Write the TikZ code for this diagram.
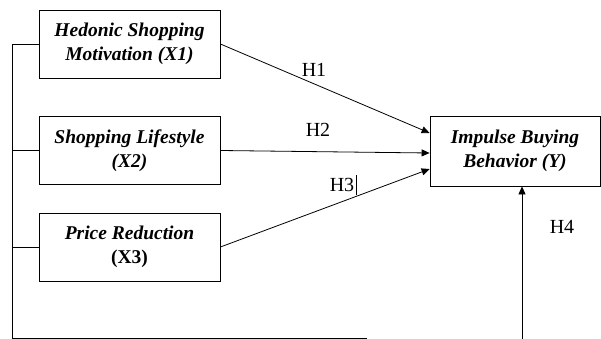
\documentclass[tikz,border=0pt]{standalone}
\usepackage{fontspec}
\setmainfont{Liberation Serif}
\usepackage{tikz}
\usetikzlibrary{arrows.meta,positioning}

\begin{document}
\begin{tikzpicture}[
  x=1pt, y=-1pt,
  varbox/.style={draw, line width=0.8pt, minimum width=181pt, minimum height=68pt, align=center, inner sep=0pt, font=\fontsize{19.5}{24}\selectfont\bfseries\itshape},
  hlabel/.style={font=\fontsize{20}{22}\selectfont, inner sep=0pt},
  line/.style={line width=0.8pt},
  arrow/.style={-{Triangle[length=8pt, width=7pt]}, line width=0.8pt}
]
\useasboundingbox (0,0) rectangle (601,339);

\node[varbox] (x1) at (129.5, 44) {Hedonic Shopping\\Motivation (X1)};
\node[varbox] (x2) at (129.5, 150.5) {Shopping Lifestyle\\(X2)};
\node[varbox] (x3) at (129.5, 247) {Price Reduction\\{\upshape (X3)}};
\node[varbox, minimum width=170pt, minimum height=70pt] (y) at (515, 151) {Impulse Buying\\Behavior (Y)};

% hypothesis paths
\draw[arrow] (x1.east) -- ([yshift=18pt]y.west);
\draw[arrow] (x2.east) -- ([yshift=-2pt]y.west);
\draw[arrow] (x3.east) -- ([yshift=-18pt]y.west);

% joint path of X1, X2, X3 towards Y
\coordinate (lt) at (12, 44);
\coordinate (lb) at (12, 338);
\coordinate (be) at (367, 338);
\coordinate (h4s) at (522, 339);
\draw[line] (x1.west) -- (lt) -- (lb) -- (be);
\draw[line] (x2.west) -- (x2.west -| lt);
\draw[line] (x3.west) -- (x3.west -| lt);
\draw[arrow] (h4s) -- (h4s |- y.south);

\node[hlabel] (h1) at (314, 70) {H1};
\node[hlabel] (h2) at (318, 130) {H2};
\node[hlabel] (h3) at (342, 185) {H3};
\node[hlabel] (h4) at (562, 227) {H4};
\draw[line width=0.5pt] ([xshift=2pt, yshift=3pt]h3.north east) -- ([xshift=2pt, yshift=-3pt]h3.south east);
\end{tikzpicture}
\end{document}
